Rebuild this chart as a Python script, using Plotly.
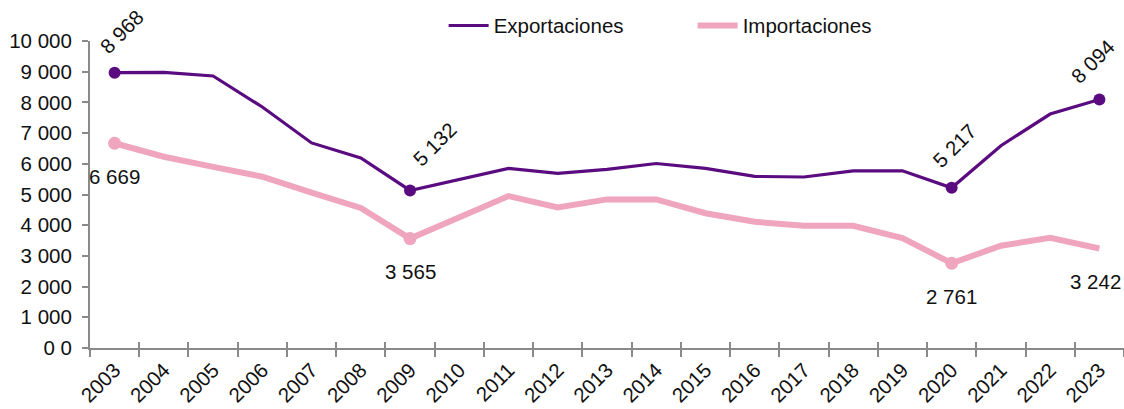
import plotly.graph_objects as go

years = [str(y) for y in range(2003, 2024)]
exportaciones = [8968, 8975, 8860, 7850, 6680, 6190, 5132, 5490, 5850, 5690,
                 5820, 6010, 5850, 5590, 5570, 5770, 5770, 5217, 6590, 7620, 8094]
importaciones = [6669, 6230, 5900, 5580, 5060, 4560, 3565, 4280, 4950, 4580,
                 4840, 4840, 4390, 4110, 3980, 3980, 3580, 2761, 3330, 3590, 3242]

y_tickvals = [0, 1000, 2000, 3000, 4000, 5000, 6000, 7000, 8000, 9000, 10000]
y_ticktext = ["0 0", "1 000", "2 000", "3 000", "4 000", "5 000",
              "6 000", "7 000", "8 000", "9 000", "10 000"]

# years whose values are marked and labelled
exp_marked = ["2003", "2009", "2020", "2023"]
imp_marked = ["2003", "2009", "2020"]
imp_labelled = ["2003", "2009", "2020", "2023"]

EXP_COLOR = "#5b0b80"
IMP_COLOR = "#efa5be"
AXIS_COLOR = "#8a8a8a"
FONT = "Liberation Sans, Arial, sans-serif"
FS = 20.5


def fmt(v):
    return f"{v:,}".replace(",", " ")


fig = go.Figure()

fig.add_trace(go.Scatter(
    x=years, y=exportaciones, name="Exportaciones", mode="lines",
    line=dict(color=EXP_COLOR, width=3.2), hoverinfo="skip"))
fig.add_trace(go.Scatter(
    x=years, y=importaciones, name="Importaciones", mode="lines",
    line=dict(color=IMP_COLOR, width=6), hoverinfo="skip"))

fig.add_trace(go.Scatter(
    x=exp_marked, y=[exportaciones[years.index(y)] for y in exp_marked],
    mode="markers", marker=dict(color=EXP_COLOR, size=12),
    showlegend=False, hoverinfo="skip", cliponaxis=False))
fig.add_trace(go.Scatter(
    x=imp_marked, y=[importaciones[years.index(y)] for y in imp_marked],
    mode="markers", marker=dict(color=IMP_COLOR, size=13),
    showlegend=False, hoverinfo="skip", cliponaxis=False))

# helper trace for the inward half of the category tick marks
fig.add_trace(go.Scatter(
    x=years, y=exportaciones, xaxis="x2", mode="lines",
    line=dict(width=0), opacity=0, showlegend=False, hoverinfo="skip"))

exp_offsets = {"2003": (7, 41), "2009": (24, 46), "2020": (3, 42), "2023": (-7, 38)}
imp_offsets = {"2003": (0, -33), "2009": (0, -33), "2020": (0, -33), "2023": (-4, -33)}

annotations = []
for y in exp_marked:
    i = years.index(y)
    v = exportaciones[i]
    dx, dy = exp_offsets[y]
    annotations.append(dict(
        x=i, y=v, xref="x", yref="y", text=fmt(v), showarrow=False,
        textangle=-45, xshift=dx, yshift=dy,
        font=dict(family=FONT, size=FS, color="#111111")))
for y in imp_labelled:
    i = years.index(y)
    v = importaciones[i]
    dx, dy = imp_offsets[y]
    annotations.append(dict(
        x=i, y=v, xref="x", yref="y", text=fmt(v), showarrow=False,
        xshift=dx, yshift=dy,
        font=dict(family=FONT, size=FS, color="#111111")))

fig.update_layout(
    width=1124, height=409,
    margin=dict(l=90, r=0, t=41, b=61),
    paper_bgcolor="white", plot_bgcolor="white",
    font=dict(family=FONT, size=FS, color="#111111"),
    showlegend=True,
    legend=dict(orientation="h", x=0.342, xanchor="left", y=1.05, yanchor="middle",
                bgcolor="rgba(0,0,0,0)", font=dict(size=FS),
                entrywidth=194, itemwidth=40),
    xaxis=dict(type="category", range=[-0.5, 20.5], tickson="boundaries",
               ticks="outside", ticklen=7, tickwidth=2, tickcolor=AXIS_COLOR,
               showline=True, linecolor=AXIS_COLOR, linewidth=2,
               showgrid=False, zeroline=False, tickangle=-45,
               tickfont=dict(size=FS)),
    xaxis2=dict(type="category", overlaying="x", matches="x", anchor="y",
                range=[-0.5, 20.5], tickson="boundaries",
                ticks="inside", ticklen=6, tickwidth=2, tickcolor=AXIS_COLOR,
                showticklabels=False, showline=False, showgrid=False,
                zeroline=False),
    yaxis=dict(range=[0, 10000], tickvals=y_tickvals, ticktext=y_ticktext,
               ticks="outside", ticklen=6, tickwidth=2, tickcolor=AXIS_COLOR,
               showline=True, linecolor=AXIS_COLOR, linewidth=2,
               showgrid=False, zeroline=False, tickfont=dict(size=FS),
               ticklabelstandoff=6),
    annotations=annotations,
)

fig.write_html("out.html")
